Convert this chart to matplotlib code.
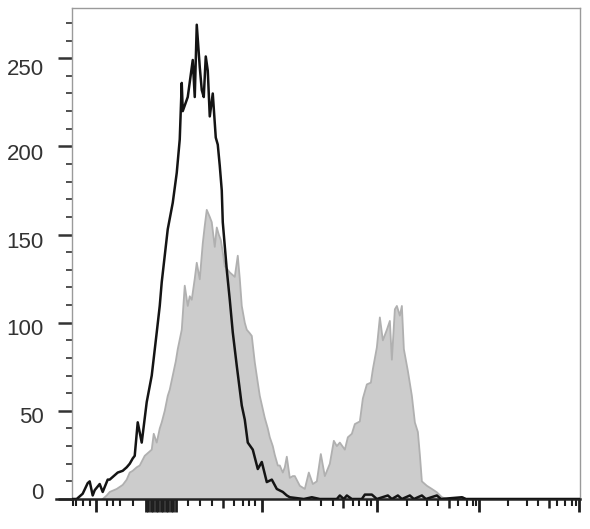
import matplotlib
matplotlib.use('Agg')
import matplotlib.pyplot as plt
import matplotlib.transforms as mtransforms

plt.rcParams['font.family'] = ['Liberation Sans', 'DejaVu Sans']

# display channel (biex scale, 0 = left edge) and event counts
black_x = [0, 5, 11, 16, 18, 21, 23, 28, 31, 36, 38, 41, 46, 51, 55, 58, 61, 63, 66, 70,
           75, 80, 85, 88, 90, 93, 96, 101, 105, 108, 110, 111, 116, 121, 123, 125, 128, 130,
           132, 134, 136, 138, 141, 144, 146, 148, 150, 151, 155, 158, 161, 165, 170, 173,
           176, 181, 186, 190, 195, 200, 205, 211, 215, 218, 225, 232, 240, 248, 265, 268,
           272, 275, 280, 290, 293, 300, 305, 316, 320, 326, 330, 338, 342, 350, 354, 365,
           369, 390, 394, 508]
black_y = [0, 0, 3, 9, 10, 2, 5, 8.5, 4, 11, 11, 12.5, 15, 16, 18, 20, 23, 24.5, 43.5, 32,
           55, 70, 94.5, 109.5, 123, 138, 153, 168, 185, 204, 236, 220, 228, 249, 228, 269,
           245, 232, 228, 251, 243, 217, 230, 205, 201, 189, 175, 157, 130, 113, 94.5, 75.5,
           53, 45, 32, 28, 17, 21, 9.6, 11, 5.7, 4, 2, 1, 0.5, 0, 1, 0, 0, 2, 0, 2, 0, 0, 2.5,
           2.5, 0, 2, 0, 2, 0, 2, 0, 2, 0, 2, 0, 1, 0, 0]

gray_x = [31, 35, 38, 45, 51, 55, 58, 61, 65, 68, 73, 78, 80, 82, 85, 88, 90, 93, 96, 98,
          101, 104, 106, 110, 113, 116, 118, 120, 123, 125, 128, 131, 133, 135, 138, 140,
          143, 145, 147, 149, 151, 153, 156, 158, 161, 163, 166, 168, 170, 173, 175, 178,
          180, 183, 186, 188, 191, 193, 196, 198, 201, 203, 206, 208, 211, 213, 215, 218,
          221, 223, 228, 233, 237, 241, 245, 249, 253, 258, 262, 265, 268, 273, 276, 280,
          283, 288, 291, 295, 299, 301, 305, 308, 311, 315, 318, 320, 323, 325, 328, 330,
          332, 336, 340, 343, 346, 348, 350, 355, 360, 365, 370, 375, 388, 391, 394]
gray_y = [0, 2, 4, 5.7, 8, 11, 15, 16, 18, 19, 24.5, 27, 28, 37, 32, 40, 43.5, 50, 58.5, 62,
          70, 78, 85, 96, 121, 109.5, 115, 113, 125, 134, 124.6, 145, 155, 164, 160, 157,
          143, 154, 150, 147, 140, 132, 130, 128.5, 127, 126, 138, 125, 109.5, 100, 96, 94,
          92.5, 77.5, 66, 58.5, 51, 46, 40, 35, 30, 25, 19, 19, 15, 18, 24, 12, 13, 13, 7.5,
          5.7, 15, 8.5, 10, 25.5, 13, 20, 33, 30, 32, 28, 35, 37, 42.5, 44, 57, 65, 66, 73.6,
          86, 103, 90, 96, 101, 79, 107.6, 109.5, 104, 109.5, 85, 72.6, 58.5, 43.4, 38, 25,
          10, 7.5, 5.7, 3.8, 1, 0, 0, 1, 0]

y_major = [0, 50, 100, 150, 200, 250]
y_minor = [10, 20, 30, 40, 60, 70, 80, 90, 110, 120, 130, 140, 160, 170, 180, 190,
           210, 220, 230, 240, 260, 270]
# vertical nudge of each y label in pixels (the export places them unevenly)
y_label_nudge = [8, -4, -4, -5.5, -6, -9]

x_major = [24, 74, 76.5, 79, 81.5, 84, 86.5, 89, 91.5, 94, 96.5, 99, 101.5, 104,
           190, 305, 407, 507]
x_medium = [151, 271, 377, 477]
x_minor = [1, 4, 11, 18, 35, 41, 48, 61, 116, 128, 140, 162, 171, 177, 183, 228, 249,
           261, 281, 287, 295, 299, 335, 355, 366, 386, 395, 401, 404, 436, 455, 466,
           485, 493, 500, 504]

fig = plt.figure(figsize=(5.9, 5.29), dpi=100)
ax = fig.add_axes([0.1215, 0.0567, 0.8615, 0.9282])

ax.fill_between(gray_x, gray_y, 0, facecolor='#cccccc', edgecolor='none', zorder=1)
ax.plot(gray_x, gray_y, color='#b0b0b0', lw=1.3, zorder=2)
ax.plot(black_x, black_y, color='#141414', lw=1.8, zorder=3)

ax.set_xlim(0, 508)
ax.set_ylim(0, 278.5)

for side in ['left', 'top', 'right']:
    ax.spines[side].set_color('#9a9a9a')
    ax.spines[side].set_linewidth(1.0)
ax.spines['bottom'].set_color('#222222')
ax.spines['bottom'].set_linewidth(1.8)
# baseline runs a little past the y axis, as in the flow plot
ax.plot([-0.03, 0], [0, 0], transform=ax.transAxes, clip_on=False,
        color='#222222', lw=1.8)

ax.set_yticks(y_major)
ax.set_yticks(y_minor, minor=True)
ax.tick_params(axis='y', which='major', length=10, width=1.8, color='#333333',
               labelleft=False)
ax.tick_params(axis='y', which='minor', length=4, width=1.2, color='#333333')

for v, dy in zip(y_major, y_label_nudge):
    off = mtransforms.ScaledTranslation(0, dy / 100, fig.dpi_scale_trans)
    ax.text(-0.0545, v, str(v), transform=ax.get_yaxis_transform() + off,
            ha='right', va='center_baseline', fontsize=16, color='#333333')

ax.set_xticks(x_major)
ax.set_xticks(x_minor, minor=True)
ax.tick_params(axis='x', which='major', length=9.5, width=2.0, color='#1e1e1e',
               labelbottom=False)
ax.tick_params(axis='x', which='minor', length=4.8, width=1.5, color='#1e1e1e')

sec = ax.secondary_xaxis('bottom')
sec.set_xticks(x_medium)
sec.tick_params(length=6.8, width=1.8, color='#1e1e1e', labelbottom=False)
sec.spines['bottom'].set_visible(False)

fig.savefig('out.png', dpi=100)
